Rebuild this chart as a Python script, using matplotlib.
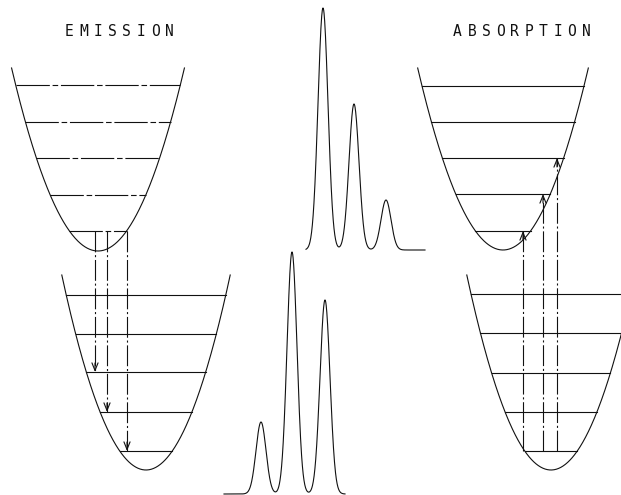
import numpy as np
import matplotlib
matplotlib.use("Agg")
import matplotlib.pyplot as plt

plt.rcParams['lines.scale_dashes'] = False

# ---------------- data ----------------
# potential wells (pixel-like diagram coordinates, y grows downward)
well_center_x = [98, 146, 503, 551]
well_bottom_y = [251, 470, 250, 470]
well_top_y = [68, 275, 68, 275]
well_curvature = [0.0245, 0.0275, 0.025, 0.0275]
# vibrational levels, v = 0 .. 4
well_levels_y = [
    [231, 195, 158, 122, 85],
    [451, 412, 372, 334, 295],
    [231, 194, 158, 122, 86],
    [451, 412, 373, 333, 294],
]
well_level_dashed = [True, False, False, False]

# emission: upper well (0) v=0 -> lower well (1) v = ...
emission_x = [95, 107, 127]
emission_to_v = [2, 1, 0]
# absorption: lower well (3) v=0 -> upper well (2) v = ...
absorption_x = [523, 543, 557]
absorption_to_v = [0, 1, 2]

# spectra
upper_spec_centers = [323, 354, 386]
upper_spec_heights = [242, 146, 50]
upper_spec_baseline = 250
upper_spec_range = [306, 425]

lower_spec_centers = [261, 292, 325]
lower_spec_heights = [72, 242, 194]
lower_spec_baseline = 494
lower_spec_range = [224, 345]
spec_sigma = 5.0

titles = ["EMISSION", "ABSORPTION"]
title_start_x = [69.5, 457.5]
title_y = 31
char_pitch = 14.3

# ---------------- figure ----------------
fig = plt.figure(figsize=(6.21, 4.95), dpi=100)
ax = fig.add_axes([0, 0, 1, 1])
ax.set_xlim(0, 621)
ax.set_ylim(495, 0)
ax.axis('off')

lc = '#111111'
lw = 0.8

def half_width(i, y):
    return np.sqrt(max(well_bottom_y[i] - y, 0) / well_curvature[i])

# wells
for i in range(4):
    hw = half_width(i, well_top_y[i])
    xs = np.linspace(well_center_x[i] - hw, well_center_x[i] + hw, 300)
    ys = well_bottom_y[i] - well_curvature[i] * (xs - well_center_x[i]) ** 2
    ax.plot(xs, ys, color=lc, lw=lw)
    for y in well_levels_y[i]:
        h = half_width(i, y)
        ls = (0, (24, 2, 4, 2)) if well_level_dashed[i] else '-'
        ax.plot([well_center_x[i] - h, well_center_x[i] + h], [y, y],
                color=lc, lw=lw, ls=ls)

chain = (0, (15, 2, 1.5, 2))
arrow_kw = dict(arrowstyle='->,head_length=0.55,head_width=0.22', color=lc, lw=lw,
                shrinkA=0, shrinkB=0)

# emission transitions
y0 = well_levels_y[0][0]
for x, v in zip(emission_x, emission_to_v):
    y1 = well_levels_y[1][v]
    ax.plot([x, x], [y0, y1], color=lc, lw=lw, ls=chain)
    ax.annotate('', xy=(x, y1), xytext=(x, y1 - 9), arrowprops=arrow_kw)

# absorption transitions
y0 = well_levels_y[3][0]
for x, v in zip(absorption_x, absorption_to_v):
    y1 = well_levels_y[2][v]
    ax.plot([x, x], [y0, y1], color=lc, lw=lw, ls=chain)
    ax.annotate('', xy=(x, y1), xytext=(x, y1 + 9), arrowprops=arrow_kw)

# spectra
def spectrum(centers, heights, baseline, xr):
    xs = np.linspace(xr[0], xr[1], 600)
    s = np.zeros_like(xs)
    for c, h in zip(centers, heights):
        s += h * np.exp(-0.5 * ((xs - c) / spec_sigma) ** 2)
    ax.plot(xs, baseline - s, color=lc, lw=lw)

spectrum(upper_spec_centers, upper_spec_heights, upper_spec_baseline, upper_spec_range)
spectrum(lower_spec_centers, lower_spec_heights, lower_spec_baseline, lower_spec_range)

# titles (spaced plotter-style lettering)
for t, x0 in zip(titles, title_start_x):
    for k, ch in enumerate(t):
        ax.text(x0 + k * char_pitch, title_y, ch, ha='center', va='center',
                fontsize=10.5, family='DejaVu Sans Mono', color=lc)

fig.savefig('out.png', dpi=100)
